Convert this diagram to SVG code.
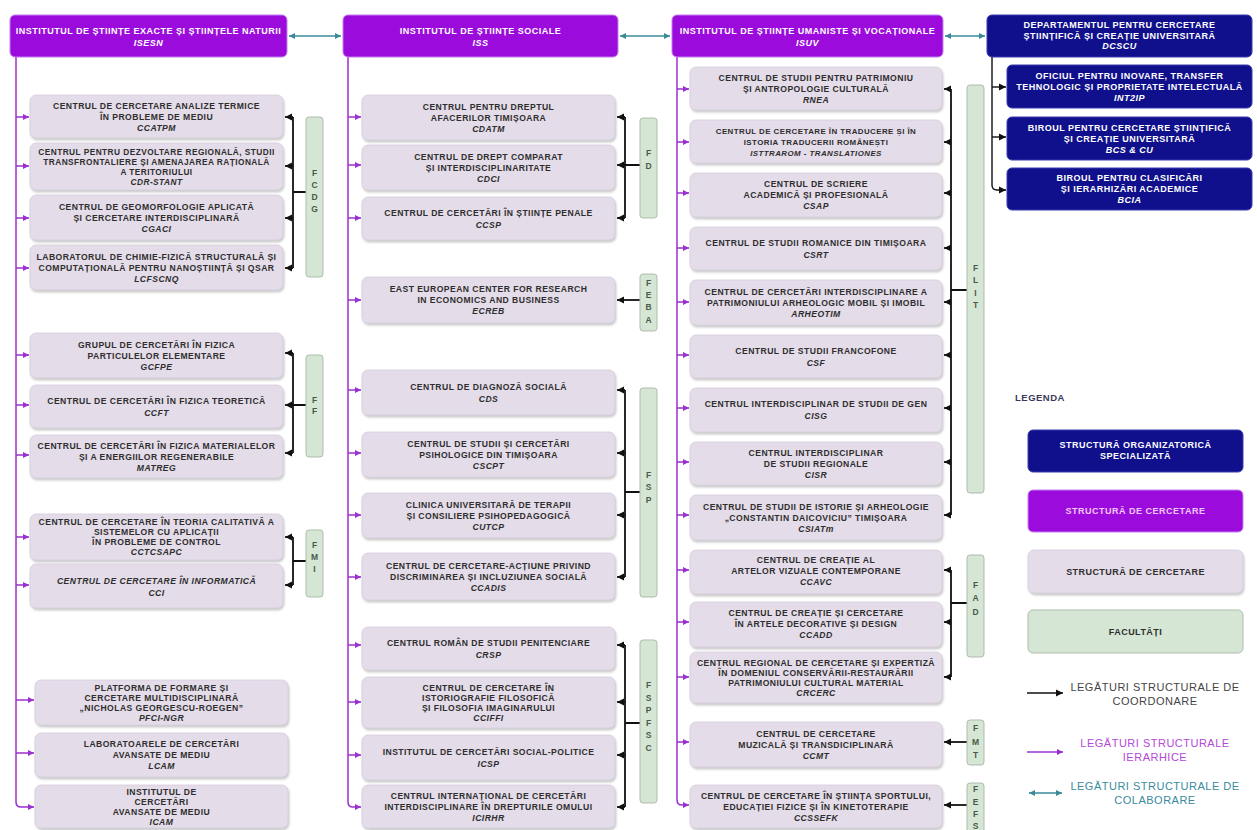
<svg xmlns="http://www.w3.org/2000/svg" width="1257" height="830" viewBox="0 0 1257 830">
<style>
.b{fill:#e4dce9;stroke:#d6cddc;stroke-width:0.8}
.h{fill:#9b0cdc;stroke:#c47ff0;stroke-width:1}
.d{fill:#10108c;stroke:#3a3ab0;stroke-width:1}
.f{fill:#d6e6d4;stroke:#aebdab;stroke-width:1}
.t{font-family:"Liberation Sans",Arial,sans-serif;font-weight:bold;font-size:8.6px;fill:#2e2e2e;text-anchor:middle;letter-spacing:0.45px}
.w{font-family:"Liberation Sans",Arial,sans-serif;font-weight:bold;font-size:9px;fill:#ffffff;text-anchor:middle;letter-spacing:0.5px}
.fl{font-family:"Liberation Sans",Arial,sans-serif;font-weight:bold;font-size:8.5px;fill:#4a5a4a;text-anchor:middle}
.i{font-style:italic}
.p{stroke:#9a30d0;stroke-width:1.5;fill:none}
.k{stroke:#111;stroke-width:1.8;fill:none}
.c{stroke:#3a8a9a;stroke-width:1.5;fill:none}
.lg{font-family:"Liberation Sans",Arial,sans-serif;font-size:11px;text-anchor:middle;letter-spacing:0.5px}
</style>
<defs>
<filter id="sh" x="-5%" y="-10%" width="110%" height="130%"><feDropShadow dx="1" dy="2" stdDeviation="1.2" flood-color="#888" flood-opacity="0.45"/></filter>
<marker id="ap" markerUnits="userSpaceOnUse" markerWidth="7" markerHeight="7" refX="6" refY="3.5" orient="auto"><path d="M0,0.5 L6,3.5 L0,6.5 z" fill="#9a30d0"/></marker>
<marker id="ak" markerUnits="userSpaceOnUse" markerWidth="8" markerHeight="8" refX="7" refY="4" orient="auto"><path d="M0,0.5 L7,4 L0,7.5 z" fill="#111"/></marker>
<marker id="ac" markerUnits="userSpaceOnUse" markerWidth="7" markerHeight="7" refX="6" refY="3.5" orient="auto-start-reverse"><path d="M0,0.5 L6,3.5 L0,6.5 z" fill="#3a8a9a"/></marker>
</defs>
<rect width="1257" height="830" fill="#fff"/>

<g id="connectors">
<path class="c" d="M289,36 H341" marker-start="url(#ac)" marker-end="url(#ac)"/>
<path class="c" d="M620,36 H670" marker-start="url(#ac)" marker-end="url(#ac)"/>
<path class="c" d="M945,36 H985" marker-start="url(#ac)" marker-end="url(#ac)"/>
<path class="p" d="M16,57 V802 Q16,807 21,807 H34" marker-end="url(#ap)"/>
<path class="p" d="M16,117 H29" marker-end="url(#ap)"/>
<path class="p" d="M16,166 H29" marker-end="url(#ap)"/>
<path class="p" d="M16,218 H29" marker-end="url(#ap)"/>
<path class="p" d="M16,268 H29" marker-end="url(#ap)"/>
<path class="p" d="M16,355 H29" marker-end="url(#ap)"/>
<path class="p" d="M16,405 H29" marker-end="url(#ap)"/>
<path class="p" d="M16,455 H29" marker-end="url(#ap)"/>
<path class="p" d="M16,537 H29" marker-end="url(#ap)"/>
<path class="p" d="M16,585 H29" marker-end="url(#ap)"/>
<path class="p" d="M16,700 H34" marker-end="url(#ap)"/>
<path class="p" d="M16,753 H34" marker-end="url(#ap)"/>
<path class="p" d="M348,57 V802 Q348,807 353,807 H361" marker-end="url(#ap)"/>
<path class="p" d="M348,117 H361" marker-end="url(#ap)"/>
<path class="p" d="M348,165 H361" marker-end="url(#ap)"/>
<path class="p" d="M348,218 H361" marker-end="url(#ap)"/>
<path class="p" d="M348,300 H361" marker-end="url(#ap)"/>
<path class="p" d="M348,390 H361" marker-end="url(#ap)"/>
<path class="p" d="M348,453 H361" marker-end="url(#ap)"/>
<path class="p" d="M348,515 H361" marker-end="url(#ap)"/>
<path class="p" d="M348,577 H361" marker-end="url(#ap)"/>
<path class="p" d="M348,645 H361" marker-end="url(#ap)"/>
<path class="p" d="M348,702 H361" marker-end="url(#ap)"/>
<path class="p" d="M348,755 H361" marker-end="url(#ap)"/>
<path class="p" d="M677,57 V800 Q677,805 682,805 H689" marker-end="url(#ap)"/>
<path class="p" d="M677,89 H689" marker-end="url(#ap)"/>
<path class="p" d="M677,142 H689" marker-end="url(#ap)"/>
<path class="p" d="M677,193 H689" marker-end="url(#ap)"/>
<path class="p" d="M677,248 H689" marker-end="url(#ap)"/>
<path class="p" d="M677,302 H689" marker-end="url(#ap)"/>
<path class="p" d="M677,355 H689" marker-end="url(#ap)"/>
<path class="p" d="M677,408 H689" marker-end="url(#ap)"/>
<path class="p" d="M677,462 H689" marker-end="url(#ap)"/>
<path class="p" d="M677,515 H689" marker-end="url(#ap)"/>
<path class="p" d="M677,570 H689" marker-end="url(#ap)"/>
<path class="p" d="M677,622 H689" marker-end="url(#ap)"/>
<path class="p" d="M677,677 H689" marker-end="url(#ap)"/>
<path class="p" d="M677,742 H689" marker-end="url(#ap)"/>
<path class="k" style="stroke-width:1.4" d="M992,57 V185 Q992,190 997,190 H1006" marker-end="url(#ak)"/>
<path class="k" style="stroke-width:1.4" d="M992,87 H1006" marker-end="url(#ak)"/>
<path class="k" style="stroke-width:1.4" d="M992,137 H1006" marker-end="url(#ak)"/>
<path class="k" d="M293,117 V268 M293,192 H306"/>
<path class="k" d="M293,117 H285" marker-end="url(#ak)"/>
<path class="k" d="M293,166 H285" marker-end="url(#ak)"/>
<path class="k" d="M293,218 H285" marker-end="url(#ak)"/>
<path class="k" d="M293,268 H285" marker-end="url(#ak)"/>
<path class="k" d="M293,353 V453 M293,405 H306"/>
<path class="k" d="M293,353 H285" marker-end="url(#ak)"/>
<path class="k" d="M293,405 H285" marker-end="url(#ak)"/>
<path class="k" d="M293,453 H285" marker-end="url(#ak)"/>
<path class="k" d="M293,537 V585 M293,561 H306"/>
<path class="k" d="M293,537 H285" marker-end="url(#ak)"/>
<path class="k" d="M293,585 H285" marker-end="url(#ak)"/>
<path class="k" d="M625,117 V218 M625,165 H640"/>
<path class="k" d="M625,117 H617" marker-end="url(#ak)"/>
<path class="k" d="M625,165 H617" marker-end="url(#ak)"/>
<path class="k" d="M625,218 H617" marker-end="url(#ak)"/>
<path class="k" d="M640,300 H617" marker-end="url(#ak)"/>
<path class="k" d="M625,390 V577 M625,492 H640"/>
<path class="k" d="M625,390 H617" marker-end="url(#ak)"/>
<path class="k" d="M625,453 H617" marker-end="url(#ak)"/>
<path class="k" d="M625,515 H617" marker-end="url(#ak)"/>
<path class="k" d="M625,577 H617" marker-end="url(#ak)"/>
<path class="k" d="M625,645 V807 M625,723 H640"/>
<path class="k" d="M625,645 H617" marker-end="url(#ak)"/>
<path class="k" d="M625,702 H617" marker-end="url(#ak)"/>
<path class="k" d="M625,755 H617" marker-end="url(#ak)"/>
<path class="k" d="M625,807 H617" marker-end="url(#ak)"/>
<path class="k" d="M951,89 V515 M951,290 H967"/>
<path class="k" d="M951,89 H944" marker-end="url(#ak)"/>
<path class="k" d="M951,142 H944" marker-end="url(#ak)"/>
<path class="k" d="M951,193 H944" marker-end="url(#ak)"/>
<path class="k" d="M951,248 H944" marker-end="url(#ak)"/>
<path class="k" d="M951,302 H944" marker-end="url(#ak)"/>
<path class="k" d="M951,355 H944" marker-end="url(#ak)"/>
<path class="k" d="M951,408 H944" marker-end="url(#ak)"/>
<path class="k" d="M951,462 H944" marker-end="url(#ak)"/>
<path class="k" d="M951,515 H944" marker-end="url(#ak)"/>
<path class="k" d="M951,570 V677 M951,603 H967"/>
<path class="k" d="M951,570 H944" marker-end="url(#ak)"/>
<path class="k" d="M951,622 H944" marker-end="url(#ak)"/>
<path class="k" d="M951,677 H944" marker-end="url(#ak)"/>
<path class="k" d="M967,742 H944" marker-end="url(#ak)"/>
<path class="k" d="M967,805 H944" marker-end="url(#ak)"/>
</g>

<g id="isesn"><rect class="h" x="10" y="15" width="277" height="42" rx="5"/><text class="w"><tspan x="148.5" y="34">INSTITUTUL DE ȘTIINȚE EXACTE ȘI ȘTIINȚELE NATURII</tspan><tspan class="i" x="148.5" y="46">ISESN</tspan></text></g>
<g id="iss"><rect class="h" x="343" y="15" width="275" height="42" rx="5"/><text class="w"><tspan x="480.5" y="34">INSTITUTUL DE ȘTIINȚE SOCIALE</tspan><tspan class="i" x="480.5" y="46">ISS</tspan></text></g>
<g id="isuv"><rect class="h" x="672" y="15" width="271" height="42" rx="5"/><text class="w"><tspan x="807.5" y="34">INSTITUTUL DE ȘTIINȚE UMANISTE ȘI VOCAȚIONALE</tspan><tspan class="i" x="807.5" y="46">ISUV</tspan></text></g>
<g id="dcscu"><rect class="d" x="987" y="15" width="265" height="42" rx="5"/><text class="w"><tspan x="1119.5" y="28">DEPARTAMENTUL PENTRU CERCETARE</tspan><tspan x="1119.5" y="38.5">ȘTIINȚIFICĂ ȘI CREAȚIE UNIVERSITARĂ</tspan><tspan class="i" x="1119.5" y="49">DCSCU</tspan></text></g>

<g id="int2ip"><rect class="d" x="1007" y="65" width="245" height="43" rx="5"/><text class="w"><tspan x="1129.5" y="78.5">OFICIUL PENTRU INOVARE, TRANSFER</tspan><tspan x="1129.5" y="89.5">TEHNOLOGIC ȘI PROPRIETATE INTELECTUALĂ</tspan><tspan class="i" x="1129.5" y="100.5">INT2IP</tspan></text></g>
<g id="bcscu"><rect class="d" x="1007" y="117" width="245" height="43" rx="5"/><text class="w"><tspan x="1129.5" y="130.5">BIROUL PENTRU CERCETARE ȘTIINȚIFICĂ</tspan><tspan x="1129.5" y="141.5">ȘI CREAȚIE UNIVERSITARĂ</tspan><tspan class="i" x="1129.5" y="152.5">BCS &amp; CU</tspan></text></g>
<g id="bcia"><rect class="d" x="1007" y="168" width="245" height="42" rx="5"/><text class="w"><tspan x="1129.5" y="181">BIROUL PENTRU CLASIFICĂRI</tspan><tspan x="1129.5" y="192">ȘI IERARHIZĂRI ACADEMICE</tspan><tspan class="i" x="1129.5" y="203">BCIA</tspan></text></g>

<g id="ccatpm"><rect class="b" filter="url(#sh)" x="30" y="95" width="253" height="43" rx="6"/><text class="t"><tspan x="156.5" y="108.5">CENTRUL DE CERCETARE ANALIZE TERMICE</tspan><tspan x="156.5" y="119.5">ÎN PROBLEME DE MEDIU</tspan><tspan class="i" x="156.5" y="130.5">CCATPM</tspan></text></g>
<g id="cdrstant"><rect class="b" filter="url(#sh)" x="30" y="143" width="253" height="47" rx="6"/><text class="t" style="font-size:8.3px"><tspan x="156.5" y="154.5">CENTRUL PENTRU DEZVOLTARE REGIONALĂ, STUDII</tspan><tspan x="156.5" y="164.5">TRANSFRONTALIERE ȘI AMENAJAREA RAȚIONALĂ</tspan><tspan x="156.5" y="174.5">A TERITORIULUI</tspan><tspan class="i" x="156.5" y="184.5">CDR-STANT</tspan></text></g>
<g id="cgaci"><rect class="b" filter="url(#sh)" x="30" y="195" width="253" height="45" rx="6"/><text class="t"><tspan x="156.5" y="209.5">CENTRUL DE GEOMORFOLOGIE APLICATĂ</tspan><tspan x="156.5" y="220.5">ȘI CERCETARE INTERDISCIPLINARĂ</tspan><tspan class="i" x="156.5" y="231.5">CGACI</tspan></text></g>
<g id="lcfscnq"><rect class="b" filter="url(#sh)" x="30" y="245" width="253" height="45" rx="6"/><text class="t"><tspan x="156.5" y="259.5">LABORATORUL DE CHIMIE-FIZICĂ STRUCTURALĂ ȘI</tspan><tspan x="156.5" y="270.5">COMPUTAȚIONALĂ PENTRU NANOȘTIINȚĂ ȘI QSAR</tspan><tspan class="i" x="156.5" y="281.5">LCFSCNQ</tspan></text></g>
<g id="gcfpe"><rect class="b" filter="url(#sh)" x="30" y="333" width="253" height="45" rx="6"/><text class="t"><tspan x="156.5" y="347.5">GRUPUL DE CERCETĂRI ÎN FIZICA</tspan><tspan x="156.5" y="358.5">PARTICULELOR ELEMENTARE</tspan><tspan class="i" x="156.5" y="369.5">GCFPE</tspan></text></g>
<g id="ccft"><rect class="b" filter="url(#sh)" x="30" y="385" width="253" height="43" rx="6"/><text class="t"><tspan x="156.5" y="403.5">CENTRUL DE CERCETĂRI ÎN FIZICA TEORETICĂ</tspan><tspan class="i" x="156.5" y="415.5">CCFT</tspan></text></g>
<g id="matreg"><rect class="b" filter="url(#sh)" x="30" y="435" width="253" height="43" rx="6"/><text class="t"><tspan x="156.5" y="448.5">CENTRUL DE CERCETĂRI ÎN FIZICA MATERIALELOR</tspan><tspan x="156.5" y="459.5">ȘI A ENERGIILOR REGENERABILE</tspan><tspan class="i" x="156.5" y="470.5">MATREG</tspan></text></g>
<g id="cctcsapc"><rect class="b" filter="url(#sh)" x="30" y="514" width="253" height="46" rx="6"/><text class="t"><tspan x="156.5" y="525">CENTRUL DE CERCETARE ÎN TEORIA CALITATIVĂ A</tspan><tspan x="156.5" y="535">SISTEMELOR CU APLICAȚII</tspan><tspan x="156.5" y="545">ÎN PROBLEME DE CONTROL</tspan><tspan class="i" x="156.5" y="555">CCTCSAPC</tspan></text></g>
<g id="cci"><rect class="b" filter="url(#sh)" x="30" y="564" width="253" height="44" rx="6"/><text class="t i"><tspan x="156.5" y="584">CENTRUL DE CERCETARE ÎN INFORMATICĂ</tspan><tspan x="156.5" y="596">CCI</tspan></text></g>
<g id="pfcingr"><rect class="b" filter="url(#sh)" x="35" y="680" width="253" height="45" rx="6"/><text class="t"><tspan x="161.5" y="690.5">PLATFORMA DE FORMARE ȘI</tspan><tspan x="161.5" y="700.5">CERCETARE MULTIDISCIPLINARĂ</tspan><tspan x="161.5" y="710.5">„NICHOLAS GEORGESCU-ROEGEN”</tspan><tspan class="i" x="161.5" y="720.5">PFCI-NGR</tspan></text></g>
<g id="lcam"><rect class="b" filter="url(#sh)" x="35" y="733" width="253" height="44" rx="6"/><text class="t"><tspan x="161.5" y="747">LABORATOARELE DE CERCETĂRI</tspan><tspan x="161.5" y="758">AVANSATE DE MEDIU</tspan><tspan class="i" x="161.5" y="769">LCAM</tspan></text></g>
<g id="icam"><rect class="b" filter="url(#sh)" x="35" y="785" width="253" height="43" rx="6"/><text class="t"><tspan x="161.5" y="794.5">INSTITUTUL DE</tspan><tspan x="161.5" y="804.5">CERCETĂRI</tspan><tspan x="161.5" y="814.5">AVANSATE DE MEDIU</tspan><tspan class="i" x="161.5" y="824.5">ICAM</tspan></text></g>

<g id="cdatm"><rect class="b" filter="url(#sh)" x="362" y="95" width="253" height="45" rx="6"/><text class="t"><tspan x="488.5" y="109.5">CENTRUL PENTRU DREPTUL</tspan><tspan x="488.5" y="120.5">AFACERILOR TIMIȘOARA</tspan><tspan class="i" x="488.5" y="131.5">CDATM</tspan></text></g>
<g id="cdci"><rect class="b" filter="url(#sh)" x="362" y="145" width="253" height="45" rx="6"/><text class="t"><tspan x="488.5" y="159.5">CENTRUL DE DREPT COMPARAT</tspan><tspan x="488.5" y="170.5">ȘI INTERDISCIPLINARITATE</tspan><tspan class="i" x="488.5" y="181.5">CDCI</tspan></text></g>
<g id="ccsp"><rect class="b" filter="url(#sh)" x="362" y="197" width="253" height="43" rx="6"/><text class="t"><tspan x="488.5" y="215.5">CENTRUL DE CERCETĂRI ÎN ȘTIINȚE PENALE</tspan><tspan class="i" x="488.5" y="227.5">CCSP</tspan></text></g>
<g id="ecreb"><rect class="b" filter="url(#sh)" x="362" y="277" width="253" height="46" rx="6"/><text class="t"><tspan x="488.5" y="292">EAST EUROPEAN CENTER FOR RESEARCH</tspan><tspan x="488.5" y="303">IN ECONOMICS AND BUSINESS</tspan><tspan class="i" x="488.5" y="314">ECREB</tspan></text></g>
<g id="cds"><rect class="b" filter="url(#sh)" x="362" y="370" width="253" height="45" rx="6"/><text class="t"><tspan x="488.5" y="389.5">CENTRUL DE DIAGNOZĂ SOCIALĂ</tspan><tspan class="i" x="488.5" y="401.5">CDS</tspan></text></g>
<g id="cscpt"><rect class="b" filter="url(#sh)" x="362" y="432" width="253" height="45" rx="6"/><text class="t"><tspan x="488.5" y="446.5">CENTRUL DE STUDII ȘI CERCETĂRI</tspan><tspan x="488.5" y="457.5">PSIHOLOGICE DIN TIMIȘOARA</tspan><tspan class="i" x="488.5" y="468.5">CSCPT</tspan></text></g>
<g id="cutcp"><rect class="b" filter="url(#sh)" x="362" y="493" width="253" height="45" rx="6"/><text class="t"><tspan x="488.5" y="507.5">CLINICA UNIVERSITARĂ DE TERAPII</tspan><tspan x="488.5" y="518.5">ȘI CONSILIERE PSIHOPEDAGOGICĂ</tspan><tspan class="i" x="488.5" y="529.5">CUTCP</tspan></text></g>
<g id="ccadis"><rect class="b" filter="url(#sh)" x="362" y="553" width="253" height="47" rx="6"/><text class="t"><tspan x="488.5" y="568.5">CENTRUL DE CERCETARE-ACȚIUNE PRIVIND</tspan><tspan x="488.5" y="579.5">DISCRIMINAREA ȘI INCLUZIUNEA SOCIALĂ</tspan><tspan class="i" x="488.5" y="590.5">CCADIS</tspan></text></g>
<g id="crsp"><rect class="b" filter="url(#sh)" x="362" y="627" width="253" height="43" rx="6"/><text class="t"><tspan x="488.5" y="645.5">CENTRUL ROMÂN DE STUDII PENITENCIARE</tspan><tspan class="i" x="488.5" y="657.5">CRSP</tspan></text></g>
<g id="cciffi"><rect class="b" filter="url(#sh)" x="362" y="677" width="253" height="51" rx="6"/><text class="t"><tspan x="488.5" y="690.5">CENTRUL DE CERCETARE ÎN</tspan><tspan x="488.5" y="700.5">ISTORIOGRAFIE FILOSOFICĂ</tspan><tspan x="488.5" y="710.5">ȘI FILOSOFIA IMAGINARULUI</tspan><tspan class="i" x="488.5" y="720.5">CCIFFI</tspan></text></g>
<g id="icsp"><rect class="b" filter="url(#sh)" x="362" y="735" width="253" height="45" rx="6"/><text class="t"><tspan x="488.5" y="754.5">INSTITUTUL DE CERCETĂRI SOCIAL-POLITICE</tspan><tspan class="i" x="488.5" y="766.5">ICSP</tspan></text></g>
<g id="icirhr"><rect class="b" filter="url(#sh)" x="362" y="785" width="253" height="43" rx="6"/><text class="t"><tspan x="488.5" y="798.5">CENTRUL INTERNAȚIONAL DE CERCETĂRI</tspan><tspan x="488.5" y="809.5">INTERDISCIPLINARE ÎN DREPTURILE OMULUI</tspan><tspan class="i" x="488.5" y="820.5">ICIRHR</tspan></text></g>

<g id="rnea"><rect class="b" filter="url(#sh)" x="690" y="67" width="252" height="43" rx="6"/><text class="t"><tspan x="816" y="80.5">CENTRUL DE STUDII PENTRU PATRIMONIU</tspan><tspan x="816" y="91.5">ȘI ANTROPOLOGIE CULTURALĂ</tspan><tspan class="i" x="816" y="102.5">RNEA</tspan></text></g>
<g id="isttrarom"><rect class="b" filter="url(#sh)" x="690" y="120" width="252" height="43" rx="6"/><text class="t" style="font-size:7.9px"><tspan x="816" y="133.5">CENTRUL DE CERCETARE ÎN TRADUCERE ȘI ÎN</tspan><tspan x="816" y="144.5">ISTORIA TRADUCERII ROMÂNEȘTI</tspan><tspan class="i" x="816" y="155.5">ISTTRAROM - TRANSLATIONES</tspan></text></g>
<g id="csap"><rect class="b" filter="url(#sh)" x="690" y="173" width="252" height="44" rx="6"/><text class="t"><tspan x="816" y="187">CENTRUL DE SCRIERE</tspan><tspan x="816" y="198">ACADEMICĂ ȘI PROFESIONALĂ</tspan><tspan class="i" x="816" y="209">CSAP</tspan></text></g>
<g id="csrt"><rect class="b" filter="url(#sh)" x="690" y="227" width="252" height="43" rx="6"/><text class="t"><tspan x="816" y="245.5">CENTRUL DE STUDII ROMANICE DIN TIMIȘOARA</tspan><tspan class="i" x="816" y="257.5">CSRT</tspan></text></g>
<g id="arheotim"><rect class="b" filter="url(#sh)" x="690" y="280" width="252" height="45" rx="6"/><text class="t"><tspan x="816" y="294.5">CENTRUL DE CERCETĂRI INTERDISCIPLINARE A</tspan><tspan x="816" y="305.5">PATRIMONIULUI ARHEOLOGIC MOBIL ȘI IMOBIL</tspan><tspan class="i" x="816" y="316.5">ARHEOTIM</tspan></text></g>
<g id="csf"><rect class="b" filter="url(#sh)" x="690" y="335" width="252" height="43" rx="6"/><text class="t"><tspan x="816" y="353.5">CENTRUL DE STUDII FRANCOFONE</tspan><tspan class="i" x="816" y="365.5">CSF</tspan></text></g>
<g id="cisg"><rect class="b" filter="url(#sh)" x="690" y="388" width="252" height="44" rx="6"/><text class="t"><tspan x="816" y="407">CENTRUL INTERDISCIPLINAR DE STUDII DE GEN</tspan><tspan class="i" x="816" y="419">CISG</tspan></text></g>
<g id="cisr"><rect class="b" filter="url(#sh)" x="690" y="442" width="252" height="43" rx="6"/><text class="t"><tspan x="816" y="455.5">CENTRUL INTERDISCIPLINAR</tspan><tspan x="816" y="466.5">DE STUDII REGIONALE</tspan><tspan class="i" x="816" y="477.5">CISR</tspan></text></g>
<g id="csiatm"><rect class="b" filter="url(#sh)" x="690" y="495" width="252" height="45" rx="6"/><text class="t"><tspan x="816" y="509.5">CENTRUL DE STUDII DE ISTORIE ȘI ARHEOLOGIE</tspan><tspan x="816" y="520.5">„CONSTANTIN DAICOVICIU” TIMIȘOARA</tspan><tspan class="i" x="816" y="531.5">CSIATm</tspan></text></g>
<g id="ccavc"><rect class="b" filter="url(#sh)" x="690" y="550" width="252" height="44" rx="6"/><text class="t"><tspan x="816" y="563">CENTRUL DE CREAȚIE AL</tspan><tspan x="816" y="574">ARTELOR VIZUALE CONTEMPORANE</tspan><tspan class="i" x="816" y="585">CCAVC</tspan></text></g>
<g id="ccadd"><rect class="b" filter="url(#sh)" x="690" y="602" width="252" height="45" rx="6"/><text class="t"><tspan x="816" y="616">CENTRUL DE CREAȚIE ȘI CERCETARE</tspan><tspan x="816" y="627">ÎN ARTELE DECORATIVE ȘI DESIGN</tspan><tspan class="i" x="816" y="638">CCADD</tspan></text></g>
<g id="crcerc"><rect class="b" filter="url(#sh)" x="690" y="652" width="252" height="51" rx="6"/><text class="t"><tspan x="816" y="665.5">CENTRUL REGIONAL DE CERCETARE ȘI EXPERTIZĂ</tspan><tspan x="816" y="675.5">ÎN DOMENIUL CONSERVĂRII-RESTAURĂRII</tspan><tspan x="816" y="685.5">PATRIMONIULUI CULTURAL MATERIAL</tspan><tspan class="i" x="816" y="695.5">CRCERC</tspan></text></g>
<g id="ccmt"><rect class="b" filter="url(#sh)" x="690" y="722" width="252" height="45" rx="6"/><text class="t"><tspan x="816" y="736.5">CENTRUL DE CERCETARE</tspan><tspan x="816" y="747.5">MUZICALĂ ȘI TRANSDICIPLINARĂ</tspan><tspan class="i" x="816" y="758.5">CCMT</tspan></text></g>
<g id="ccssefk"><rect class="b" filter="url(#sh)" x="690" y="785" width="252" height="43" rx="6"/><text class="t"><tspan x="816" y="798.5">CENTRUL DE CERCETARE ÎN ȘTIINȚA SPORTULUI,</tspan><tspan x="816" y="809.5">EDUCAȚIEI FIZICE ȘI ÎN KINETOTERAPIE</tspan><tspan class="i" x="816" y="820.5">CCSSEFK</tspan></text></g>

<g id="fcdg"><rect class="f" x="306" y="117" width="17" height="160" rx="3"/><text class="fl"><tspan x="314.5" y="176">F</tspan><tspan x="314.5" y="188">C</tspan><tspan x="314.5" y="200">D</tspan><tspan x="314.5" y="212">G</tspan></text></g>
<g id="ff"><rect class="f" x="306" y="355" width="17" height="102" rx="3"/><text class="fl"><tspan x="314.5" y="403">F</tspan><tspan x="314.5" y="414">F</tspan></text></g>
<g id="fmi"><rect class="f" x="306" y="530" width="17" height="67" rx="3"/><text class="fl"><tspan x="314.5" y="548">F</tspan><tspan x="314.5" y="560">M</tspan><tspan x="314.5" y="572">I</tspan></text></g>
<g id="fd"><rect class="f" x="640" y="118" width="17" height="100" rx="3"/><text class="fl"><tspan x="648.5" y="156">F</tspan><tspan x="648.5" y="169">D</tspan></text></g>
<g id="feba"><rect class="f" x="640" y="274" width="17" height="57" rx="3"/><text class="fl"><tspan x="648.5" y="286">F</tspan><tspan x="648.5" y="298">E</tspan><tspan x="648.5" y="310">B</tspan><tspan x="648.5" y="323">A</tspan></text></g>
<g id="fsp"><rect class="f" x="640" y="388" width="17" height="209" rx="3"/><text class="fl"><tspan x="648.5" y="478">F</tspan><tspan x="648.5" y="490">S</tspan><tspan x="648.5" y="503">P</tspan></text></g>
<g id="fspfsc"><rect class="f" x="640" y="640" width="17" height="163" rx="3"/><text class="fl"><tspan x="648.5" y="688">F</tspan><tspan x="648.5" y="700.5">S</tspan><tspan x="648.5" y="713">P</tspan><tspan x="648.5" y="725.5">F</tspan><tspan x="648.5" y="738">S</tspan><tspan x="648.5" y="750.5">C</tspan></text></g>
<g id="flit"><rect class="f" x="967" y="85" width="17" height="408" rx="3"/><text class="fl"><tspan x="975.5" y="271">F</tspan><tspan x="975.5" y="283">L</tspan><tspan x="975.5" y="296">I</tspan><tspan x="975.5" y="308">T</tspan></text></g>
<g id="fad"><rect class="f" x="967" y="555" width="17" height="102" rx="3"/><text class="fl"><tspan x="975.5" y="588">F</tspan><tspan x="975.5" y="601">A</tspan><tspan x="975.5" y="615">D</tspan></text></g>
<g id="fmt"><rect class="f" x="967" y="720" width="17" height="45" rx="3"/><text class="fl"><tspan x="975.5" y="731">F</tspan><tspan x="975.5" y="745">M</tspan><tspan x="975.5" y="758">T</tspan></text></g>
<g id="fefs"><rect class="f" x="967" y="783" width="17" height="52" rx="3"/><text class="fl"><tspan x="975.5" y="792">F</tspan><tspan x="975.5" y="804.5">E</tspan><tspan x="975.5" y="817">F</tspan><tspan x="975.5" y="829">S</tspan></text></g>

<g id="legend">
<text x="1015" y="401" style="font-family:'Liberation Sans',Arial,sans-serif;font-weight:bold;font-size:9.5px;fill:#3a3a5a;letter-spacing:0.5px">LEGENDA</text>
<rect class="d" x="1028" y="430" width="215" height="42" rx="5"/>
<text class="w"><tspan x="1135.5" y="448">STRUCTURĂ ORGANIZATORICĂ</tspan><tspan x="1135.5" y="459">SPECIALIZATĂ</tspan></text>
<rect class="h" x="1028" y="490" width="215" height="42" rx="5"/>
<text class="w" style="fill:#f4c8f4"><tspan x="1135.5" y="514">STRUCTURĂ DE CERCETARE</tspan></text>
<rect class="b" filter="url(#sh)" x="1028" y="550" width="215" height="43" rx="6"/>
<text class="t" style="font-size:9px"><tspan x="1135.5" y="574.5">STRUCTURĂ DE CERCETARE</tspan></text>
<rect class="f" x="1028" y="610" width="215" height="43" rx="5"/>
<text class="t" style="font-size:9px"><tspan x="1135.5" y="634.5">FACULTĂȚI</tspan></text>
<path class="k" style="stroke-width:1.5" d="M1027,693 H1063" marker-end="url(#ak)"/>
<text class="lg" style="fill:#444"><tspan x="1155" y="691">LEGĂTURI STRUCTURALE DE</tspan><tspan x="1155" y="705">COORDONARE</tspan></text>
<path class="p" d="M1027,752 H1063" marker-end="url(#ap)"/>
<text class="lg" style="fill:#b548d8"><tspan x="1155" y="747">LEGĂTURI STRUCTURALE</tspan><tspan x="1155" y="761">IERARHICE</tspan></text>
<path class="c" d="M1029,793 H1062" marker-start="url(#ac)" marker-end="url(#ac)"/>
<text class="lg" style="fill:#3a8aa0"><tspan x="1155" y="790">LEGĂTURI STRUCTURALE DE</tspan><tspan x="1155" y="804">COLABORARE</tspan></text>
</g>
</svg>
